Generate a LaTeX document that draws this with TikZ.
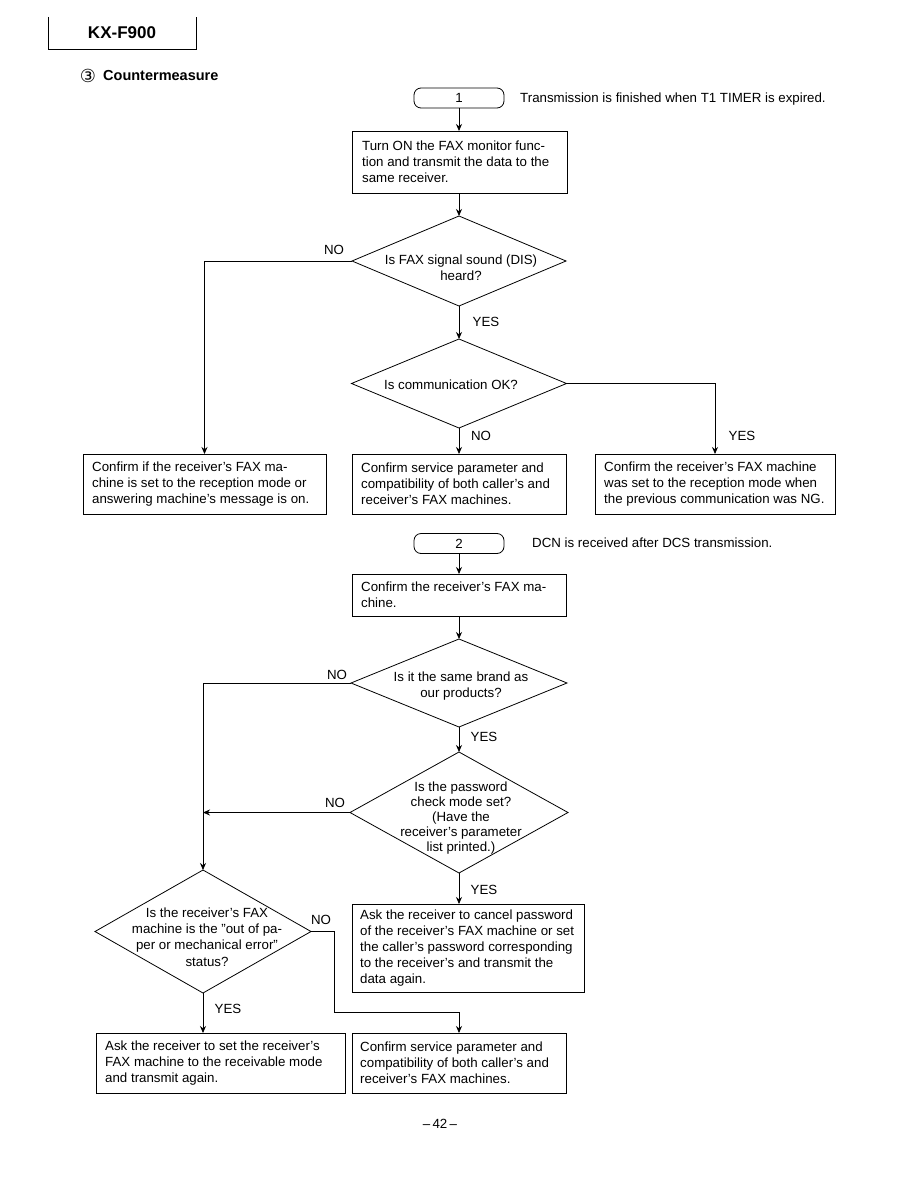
\documentclass[tikz,border=0pt]{standalone}
\usepackage{fontspec}
\setmainfont{Liberation Sans}
\newfontfamily\symfont{DejaVu Sans}
\usetikzlibrary{shapes.geometric,arrows.meta}
\begin{document}
\begin{tikzpicture}[x=1pt,y=-1pt,
  every node/.style={font=\fontsize{13.3}{16}\selectfont},
  ln/.style={line width=0.8pt},
  arr/.style={line width=0.8pt,-{Stealth[length=7pt,width=6pt]}},
  procbox/.style={draw,line width=0.8pt,inner sep=0pt,outer sep=0pt,anchor=north west},
  dec/.style={diamond,draw,line width=0.8pt,inner sep=0pt,outer sep=0pt},
  term/.style={draw,line width=0.8pt,rounded corners=7pt,minimum width=90pt,minimum height=20pt,inner sep=0pt,outer sep=0pt},
  btxt/.style={anchor=west,align=left,inner sep=0pt},
  dtxt/.style={align=center,inner sep=0pt},
  lbl/.style={inner sep=0pt},
  note/.style={anchor=west,inner sep=0pt}
]
\useasboundingbox (0,0) rectangle (918,1188);

% header
\draw[ln] (48,17) -- (48,49) -- (196,49) -- (196,17);
\node[lbl,font=\fontsize{17}{20}\selectfont\bfseries] (title) at (122,33) {KX-F900};
\node[lbl,font=\symfont\fontsize{18}{20}\selectfont] (circ) at (88,76) {③};
\node[note,font=\fontsize{14.5}{17}\selectfont\bfseries] (sect) at (103,76) {Countermeasure};

% ---------- part 1 ----------
\node[term] (t1) at (459,98) {1};
\node[note] (t1n) at (520,99) {Transmission is finished when T1 TIMER is expired.};

\node[procbox,minimum width=215pt,minimum height=62pt] (b1) at (352,131) {};
\node[btxt] (b1t) at ([xshift=10pt]b1.west) {Turn ON the FAX monitor func-\\tion and transmit the data to the\\same receiver.};

\node[dec,minimum width=214pt,minimum height=90pt] (d1) at (459,261) {};
\node[dtxt] (d1t) at (461,268) {Is FAX signal sound (DIS)\\heard?};

\node[dec,minimum width=215pt,minimum height=89pt] (d2) at (459,383.5) {};
\node[dtxt] (d2t) at (451,385) {Is communication OK?};

\node[procbox,minimum width=243pt,minimum height=60pt] (bL) at (83,454) {};
\node[btxt] (bLt) at ([xshift=9pt]bL.west) {Confirm if the receiver's FAX ma-\\chine is set to the reception mode or\\answering machine's message is on.};

\node[procbox,minimum width=214pt,minimum height=60pt] (bM) at (352,454) {};
\node[btxt] (bMt) at ([xshift=9pt]bM.west) {Confirm service parameter and\\compatibility of both caller's and\\receiver's FAX machines.};

\node[procbox,minimum width=240pt,minimum height=60pt] (bR) at (595,454) {};
\node[btxt] (bRt) at ([xshift=9pt]bR.west) {Confirm the receiver's FAX machine\\was set to the reception mode when\\the previous communication was NG.};

\draw[arr] (t1.south) -- (t1.south |- b1.north);
\draw[arr] (d1.north |- b1.south) -- (d1.north);
\draw[arr] (d1.west) -| (bL.north);
\draw[arr] (d1.south) -- (d2.north);
\draw[arr] (d2.south) -- (d2.south |- bM.north);
\coordinate (rt) at (715,383.5);
\draw[arr] (d2.east) -- (rt) -- (rt |- bR.north);

\node[lbl] (n1) at (334,250) {NO};
\node[lbl] (y1) at (486,322) {YES};
\node[lbl] (n2) at (481,436) {NO};
\node[lbl] (y2) at (742,436) {YES};

% ---------- part 2 ----------
\node[term] (t2) at (459,543.5) {2};
\node[note] (t2n) at (532,543) {DCN is received after DCS transmission.};

\node[procbox,minimum width=214pt,minimum height=42pt] (b2) at (352,574) {};
\node[btxt] (b2t) at ([xshift=9pt]b2.west) {Confirm the receiver's FAX ma-\\chine.};

\node[dec,minimum width=216pt,minimum height=88pt] (d3) at (459,683) {};
\node[dtxt] (d3t) at (461,686) {Is it the same brand as\\our products?};

\node[dec,minimum width=218pt,minimum height=121pt] (d4) at (459,812.5) {};
\node[dtxt,font=\fontsize{13.3}{15}\selectfont] (d4t) at (461,818) {Is the password\\check mode set?\\(Have the\\receiver's parameter\\list printed.)};

\node[procbox,minimum width=232pt,minimum height=88pt] (bP) at (352,904) {};
\node[btxt] (bPt) at ([xshift=8pt]bP.west) {Ask the receiver to cancel password\\of the receiver's FAX machine or set\\the caller's password corresponding\\to the receiver's and transmit the\\data again.};

\node[dec,minimum width=216pt,minimum height=123pt] (d5) at (203,931.5) {};
\node[dtxt,font=\fontsize{13.3}{16.3}\selectfont] (d5t) at (207,937) {Is the receiver's FAX\\machine is the "out of pa-\\per or mechanical error"\\status?};

\node[procbox,minimum width=249pt,minimum height=60pt] (bBL) at (96,1033) {};
\node[btxt] (bBLt) at ([xshift=9pt]bBL.west) {Ask the receiver to set the receiver's\\FAX machine to the receivable mode\\and transmit again.};

\node[procbox,minimum width=214pt,minimum height=60pt] (bBR) at (352,1033) {};
\node[btxt] (bBRt) at ([xshift=8pt]bBR.west) {Confirm service parameter and\\compatibility of both caller's and\\receiver's FAX machines.};

\draw[arr] (t2.south) -- (t2.south |- b2.north);
\draw[arr] (d3.north |- b2.south) -- (d3.north);
\draw[arr] (d3.west) -| (d5.north);
\draw[arr] (d3.south) -- (d4.north);
\coordinate (mg) at (d5.north |- d4.west);
\draw[arr] (d4.west) -- (mg);
\draw[arr] (d4.south) -- (d4.south |- bP.north);
\coordinate (k1) at (334,1012);
\draw[arr] (d5.east) -| (k1) -| (bBR.north);
\draw[arr] (d5.south) -- (d5.south |- bBL.north);

\node[lbl] (n3) at (337,675) {NO};
\node[lbl] (y3) at (484,737) {YES};
\node[lbl] (n4) at (335,803) {NO};
\node[lbl] (y4) at (484,890) {YES};
\node[lbl] (n5) at (321,920) {NO};
\node[lbl] (y5) at (228,1009) {YES};

\node[lbl] (pg) at (440,1124) {\textendash\,42\,\textendash};
\end{tikzpicture}
\end{document}
